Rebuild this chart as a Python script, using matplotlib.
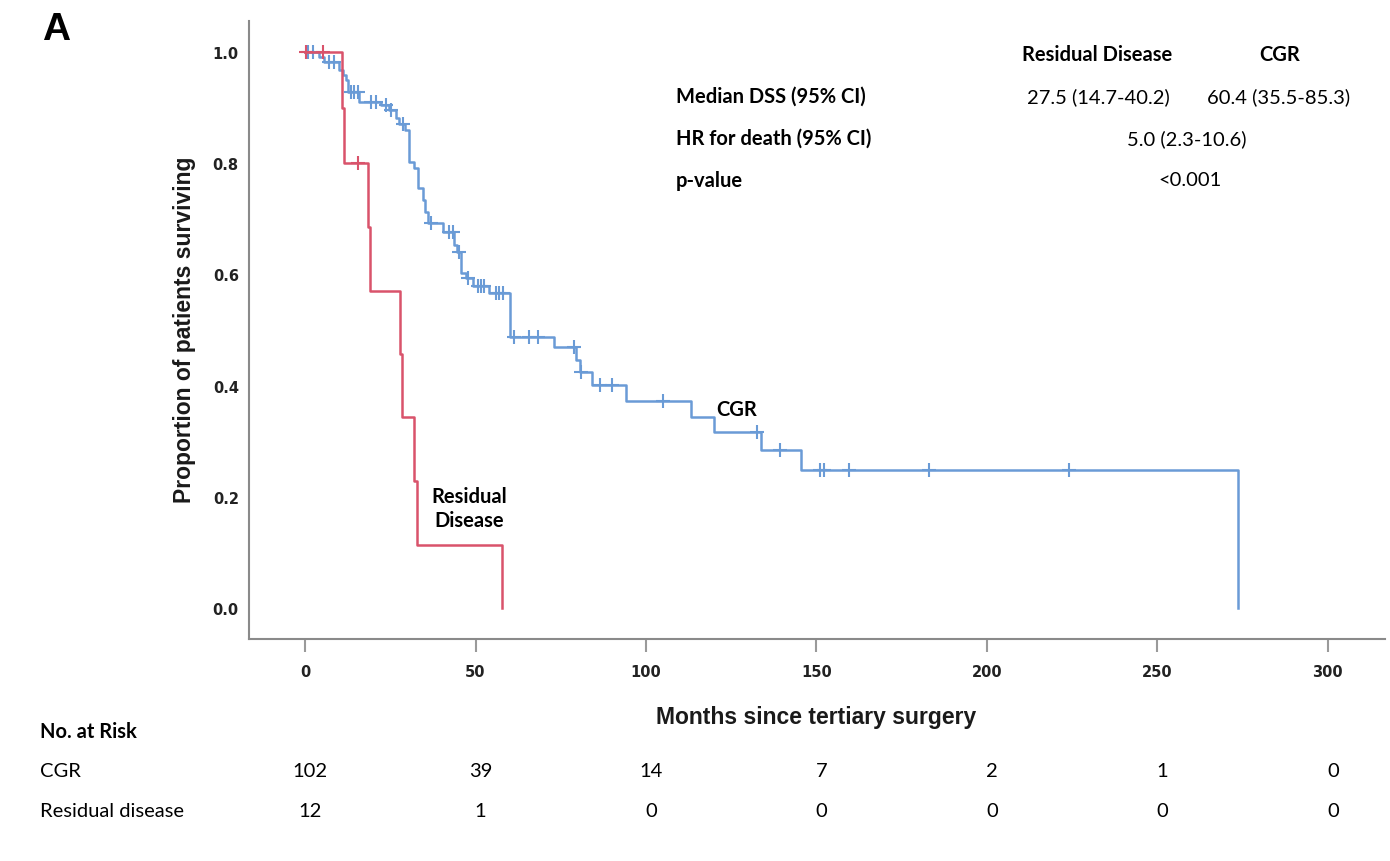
import numpy as np
import matplotlib
matplotlib.use("Agg")
import matplotlib.pyplot as plt
from matplotlib.transforms import blended_transform_factory

# Kaplan-Meier steps (months, survival after the step)
cgr_times = [4.1, 5.6, 10.0, 11.2, 12.0, 12.6, 15.8, 22.3, 24.7, 26.7, 27.6, 29.4,
             30.5, 32.0, 33.2, 34.6, 35.2, 36.1, 40.5, 43.7, 44.6, 45.8, 47.3, 49.3,
             54.0, 60.2, 73.1, 79.5, 80.7, 84.2, 94.2, 113.3, 120.0, 133.8, 145.6, 273.6]
cgr_surv = [0.991, 0.982, 0.968, 0.959, 0.950, 0.928, 0.910, 0.905, 0.896, 0.881, 0.871, 0.860,
            0.802, 0.791, 0.755, 0.734, 0.712, 0.692, 0.676, 0.653, 0.640, 0.603, 0.594, 0.579,
            0.567, 0.487, 0.469, 0.446, 0.424, 0.401, 0.372, 0.344, 0.317, 0.284, 0.248, 0.0]
cgr_censored = [0.9, 2.3, 7.0, 8.5, 13.5, 14.4, 15.6, 19.4, 20.8, 23.8, 25.2, 28.8,
                37.0, 42.3, 43.4, 45.2, 47.8, 50.8, 51.7, 52.5, 56.1, 56.9, 58.1,
                61.3, 65.7, 68.4, 79.0, 81.0, 86.6, 90.1, 105.1, 132.7, 139.4,
                151.2, 152.3, 159.7, 182.9, 224.0]

res_times = [10.9, 11.4, 18.5, 19.1, 27.9, 28.5, 32.0, 32.9, 57.8]
res_surv = [0.9, 0.8, 0.686, 0.571, 0.457, 0.343, 0.229, 0.114, 0.0]
res_censored = [0.3, 5.3, 15.5]

risk_months = [0, 50, 100, 150, 200, 250, 300]
risk_cgr = [102, 39, 14, 7, 2, 1, 0]
risk_res = [12, 1, 0, 0, 0, 0, 0]

blue = "#6a9bd6"
red = "#d9536b"
W, H = 1390, 862


def px(x, y):
    return x / W, 1 - y / H


def surv_at(times, surv, t):
    idx = np.searchsorted(times, t, side="right")
    return np.r_[1.0, surv][idx]


fig = plt.figure(figsize=(13.9, 8.62), dpi=100)
ax = fig.add_axes([248.5 / W, 1 - 640 / H, (1385 - 248.5) / W, (640 - 22) / H])

for times, surv, cens, col in [(cgr_times, cgr_surv, cgr_censored, blue),
                                (res_times, res_surv, res_censored, red)]:
    ax.step(np.r_[0, times], np.r_[1.0, surv], where="post", color=col, lw=1.8)
    ax.plot(cens, surv_at(np.array(times), np.array(surv), np.array(cens)),
            ls="none", marker="+", ms=10, mew=1.5, color=col)

ax.set_xlim(-16.6, 316.8)
ax.set_ylim(-0.056, 1.056)
ax.set_xticks(risk_months)
ax.set_yticks([0.0, 0.2, 0.4, 0.6, 0.8, 1.0])
ax.set_yticklabels(["0.0", "0.2", "0.4", "0.6", "0.8", "1.0"])
for s in ["top", "right"]:
    ax.spines[s].set_visible(False)
for s in ["left", "bottom"]:
    ax.spines[s].set_color("#8a8a8a")
    ax.spines[s].set_linewidth(1.5)
ax.tick_params(axis="x", length=9, width=1.5, color="#9a9a9a", pad=9)
ax.tick_params(axis="y", length=0, pad=7)
for lab in ax.get_xticklabels() + ax.get_yticklabels():
    lab.set_fontfamily("DejaVu Sans")
    lab.set_fontweight("bold")
    lab.set_fontsize(10.5)
    lab.set_color("#222222")

lato = "Lato"
fs = 14.5
fig.text(*px(737, 410), "CGR", fontsize=fs, fontweight="bold", family=lato,
         ha="center", va="center")
fig.text(*px(469, 509), "Residual\nDisease", fontsize=fs, fontweight="bold", family=lato,
         ha="center", va="center", linespacing=1.25)

fig.text(*px(185, 330), "Proportion of patients surviving", rotation=90,
         fontsize=16.5, fontweight="bold", family="Liberation Sans",
         ha="center", va="center", color="#1a1a1a")
fig.text(*px(816, 718), "Months since tertiary surgery",
         fontsize=16.5, fontweight="bold", family="Liberation Sans",
         ha="center", va="center", color="#1a1a1a")
fig.text(*px(56, 30), "A", fontsize=28, fontweight="bold", family="Liberation Sans",
         ha="center", va="center")

# summary table
fig.text(*px(1097, 55), "Residual Disease", fontsize=fs, fontweight="bold", family=lato,
         ha="center", va="center")
fig.text(*px(1280, 55), "CGR", fontsize=fs, fontweight="bold", family=lato,
         ha="center", va="center")
rows = [("Median DSS (95% CI)", 97), ("HR for death (95% CI)", 139), ("p-value", 181)]
for label, y in rows:
    fig.text(*px(676, y), label, fontsize=fs, fontweight="bold", family=lato,
             ha="left", va="center")
fig.text(*px(1098, 97), "27.5 (14.7-40.2)", fontsize=fs, family=lato, ha="center", va="center")
fig.text(*px(1279, 97), "60.4 (35.5-85.3)", fontsize=fs, family=lato, ha="center", va="center")
fig.text(*px(1187, 139), "5.0 (2.3-10.6)", fontsize=fs, family=lato, ha="center", va="center")
fig.text(*px(1190, 181), "<0.001", fontsize=fs, family=lato, ha="center", va="center")

# number at risk
fig.text(*px(40, 732), "No. at Risk", fontsize=fs, fontweight="bold", family=lato,
         ha="left", va="center")
fig.text(*px(40, 772), "CGR", fontsize=fs, family=lato, ha="left", va="center")
fig.text(*px(40, 812), "Residual disease", fontsize=fs, family=lato, ha="left", va="center")
trans = blended_transform_factory(ax.transData, fig.transFigure)
for m, a, b in zip(risk_months, risk_cgr, risk_res):
    fig.text(m + 1.5, px(0, 772)[1], str(a), fontsize=fs, family=lato,
             ha="center", va="center", transform=trans)
    fig.text(m + 1.5, px(0, 812)[1], str(b), fontsize=fs, family=lato,
             ha="center", va="center", transform=trans)

fig.savefig("out.png", dpi=100)
